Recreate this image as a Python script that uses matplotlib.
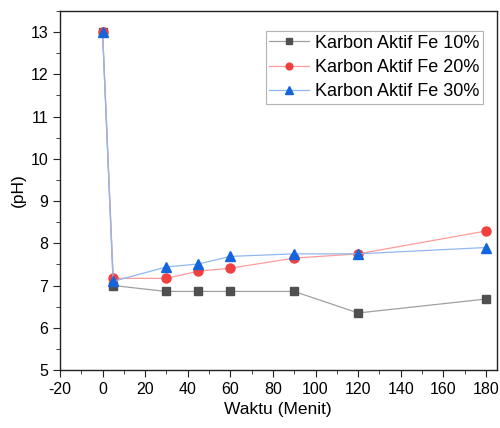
import matplotlib
matplotlib.use("Agg")
import matplotlib.pyplot as plt
from matplotlib.ticker import MultipleLocator

plt.rcParams['font.family'] = ['Liberation Sans', 'DejaVu Sans']
plt.rcParams['axes.unicode_minus'] = False

time = [0, 5, 30, 45, 60, 90, 120, 180]
fe10 = [13.0, 7.0, 6.86, 6.86, 6.86, 6.86, 6.35, 6.68]
fe20 = [13.0, 7.17, 7.17, 7.34, 7.41, 7.65, 7.75, 8.29]
fe30 = [13.0, 7.1, 7.44, 7.51, 7.69, 7.75, 7.75, 7.9]

fig = plt.figure(figsize=(5, 4.28), dpi=100)
ax = fig.add_axes([0.12, 0.1355, 0.873, 0.8388])

ax.plot(time, fe10, color='#a0a0a0', lw=0.9, marker='s', ms=5.8, mfc='#505050', mec='#505050', label='Karbon Aktif Fe 10%')
ax.plot(time, fe20, color='#ff9a9a', lw=0.9, marker='o', ms=6.5, mfc='#f04040', mec='#f04040', label='Karbon Aktif Fe 20%')
ax.plot(time, fe30, color='#90b8f0', lw=0.9, marker='^', ms=7, mfc='#1464dc', mec='#1464dc', label='Karbon Aktif Fe 30%')

ax.set_xlim(-20, 185)
ax.set_ylim(5, 13.5)
ax.xaxis.set_major_locator(MultipleLocator(20))
ax.xaxis.set_minor_locator(MultipleLocator(10))
ax.yaxis.set_major_locator(MultipleLocator(1))
ax.yaxis.set_minor_locator(MultipleLocator(0.5))
ax.tick_params(which='both', direction='out', labelsize=11.5, color='#222222')
ax.tick_params(which='major', length=5)
ax.tick_params(which='minor', length=3)
for s in ax.spines.values():
    s.set_linewidth(1.0)
    s.set_color('#222222')
ax.set_xlabel('Waktu (Menit)', fontsize=12.5, labelpad=4)
ax.set_ylabel('(pH)', fontsize=12.5, labelpad=3)

leg = ax.legend(loc='upper right', bbox_to_anchor=(0.970, 0.944), fontsize=13, frameon=True,
                fancybox=False, edgecolor='#a0a0a0', handlelength=2.2, borderpad=0.2,
                labelspacing=0.4, handletextpad=0.35, borderaxespad=0, markerscale=0.75)
leg.get_frame().set_linewidth(0.8)

fig.savefig('out.png', dpi=100)
